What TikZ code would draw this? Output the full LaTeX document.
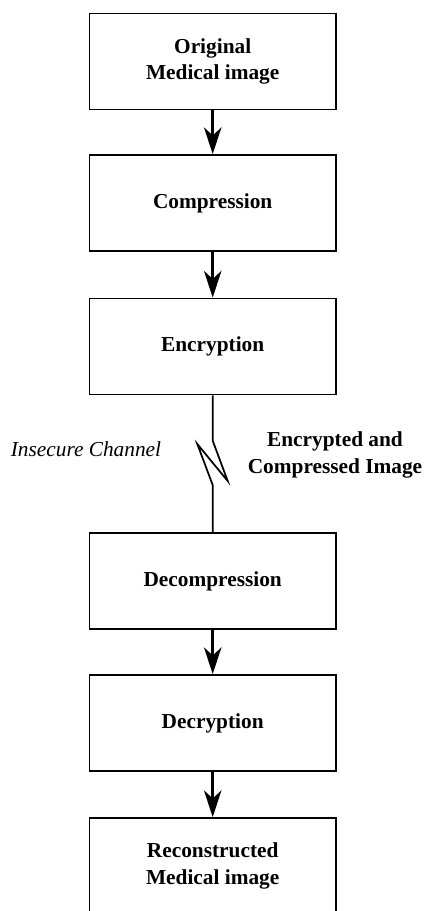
\documentclass[tikz,border=0pt]{standalone}
\usepackage{fontspec}
\setmainfont{Liberation Serif}
\usetikzlibrary{arrows.meta}

\tikzset{every picture/.style={line width=0.75pt}}
\tikzset{
  stagebox/.style={draw, line width=1.3pt, minimum width=185pt, minimum height=72pt,
    align=center, font=\fontsize{16}{20}\selectfont\bfseries},
  flow/.style={line width=2.2pt, -{Stealth[length=20pt,width=13pt,inset=6pt]}},
  channel/.style={line width=1.3pt, line join=miter},
}

\begin{document}
\begin{tikzpicture}[x=0.75pt,y=0.75pt,yscale=-1,xscale=1]
\clip (0,0) rectangle (425,911);
\useasboundingbox (0,0) rectangle (425,911);

% Stage boxes
\node[stagebox] (orig) at (212.7,61.5) {Original\\Medical image};
\node[stagebox] (comp) at (212.7,203) {Compression};
\node[stagebox] (encr) at (212.7,346.5) {Encryption};
\node[stagebox] (dcmp) at (212.7,581) {Decompression};
\node[stagebox] (dcry) at (212.7,723) {Decryption};
\node[stagebox] (recon) at (212.7,866) {Reconstructed\\Medical image};

% Arrows between stages
\draw[flow] (orig) -- (comp);
\draw[flow] (comp) -- (encr);
\draw[flow] (dcmp) -- (dcry);
\draw[flow] (dcry) -- (recon);

% Channel break
\coordinate (zA) at (212.7,440.7);
\coordinate (zC) at (227.7,481);
\coordinate (zB) at (197.3,444);
\coordinate (zD) at (212.7,485);
\draw[channel] (encr.south) -- (zA) -- (zC) -- (zB) -- (zD) -- (dcmp.north);

% Text Node
\node[font=\fontsize{16}{20}\selectfont\itshape] (insec) at (86,449) {Insecure Channel};
% Text Node
\node[font=\fontsize{16}{20}\selectfont\bfseries, align=center] (payload) at (335,455) {Encrypted and\\Compressed Image};

\end{tikzpicture}
\end{document}
